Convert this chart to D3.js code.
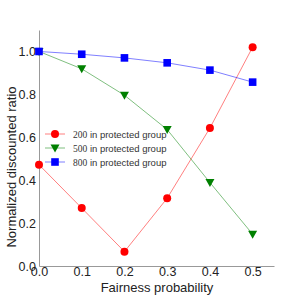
<!DOCTYPE html>
<html>
<head>
<meta charset="utf-8">
<script src="https://cdn.jsdelivr.net/npm/d3@7"></script>
<style>
  body { margin: 0; background: #fff; }
  text { font-family: "Liberation Sans", Arial, sans-serif; }
</style>
</head>
<body>
<div id="chart-container"></div>
<script>
const probs = [0.0, 0.1, 0.2, 0.3, 0.4, 0.5];
const group200 = [0.472, 0.27, 0.067, 0.316, 0.643, 1.02];
const group500 = [1.0, 0.919, 0.796, 0.636, 0.389, 0.148];
const group800 = [1.0, 0.987, 0.97, 0.947, 0.913, 0.857];
const seriesNames = ["200", "500", "800"];
const xTicks = [0.0, 0.1, 0.2, 0.3, 0.4, 0.5];
const yTicks = [0.0, 0.2, 0.4, 0.6, 0.8, 1.0];

const series = [
    {name: seriesNames[0], values: group200, color: "#ff0000", marker: "circle"},
    {name: seriesNames[1], values: group500, color: "#008000", marker: "tri"},
    {name: seriesNames[2], values: group800, color: "#0000ff", marker: "square"}
];

const margin = {top: 30, right: 31, bottom: 39, left: 39},
      width = 305 - margin.left - margin.right,
      height = 305 - margin.top - margin.bottom;

const svg = d3.select("#chart-container").append("svg")
    .attr("width", 305)
    .attr("height", 305);
const g = svg.append("g")
    .attr("transform", `translate(${margin.left}, ${margin.top})`);

const x = d3.scaleLinear().domain([0, 0.55]).range([0, width]);
const y = d3.scaleLinear().domain([0, 1.1]).range([height, 0]);

// axes (no tick marks, grey spines)
const xAxis = g.append("g")
    .attr("transform", `translate(0, ${height})`)
    .call(d3.axisBottom(x).tickValues(xTicks).tickSize(0).tickPadding(1).tickFormat(d3.format(".1f")));
const yAxis = g.append("g")
    .call(d3.axisLeft(y).tickValues(yTicks).tickSize(0).tickPadding(3).tickFormat(d3.format(".1f")));
[xAxis, yAxis].forEach(a => {
    a.select(".domain").attr("stroke", "#999").attr("stroke-width", 1);
    a.selectAll("text").attr("font-size", 12.5).attr("fill", "#222")
        .attr("font-family", "Liberation Sans, Arial, sans-serif");
});

svg.append("text")
    .attr("text-anchor", "middle")
    .attr("x", 157)
    .attr("y", 292)
    .attr("font-size", 13)
    .attr("fill", "#222")
    .text("Fairness probability");
svg.append("text")
    .attr("transform", "rotate(-90)")
    .attr("x", -167)
    .attr("y", 16)
    .attr("text-anchor", "middle")
    .attr("font-size", 13)
    .attr("fill", "#222")
    .text("Normalized discounted ratio");

function drawMarker(sel, type, color) {
    if (type === "circle") {
        sel.append("circle").attr("r", 4).attr("fill", color);
    } else if (type === "square") {
        sel.append("rect").attr("x", -3.8).attr("y", -3.8).attr("width", 7.6).attr("height", 7.6).attr("fill", color);
    } else {
        sel.append("path").attr("d", "M-4.5,-3.5L4.5,-3.5L0,4.5Z").attr("fill", color);
    }
}

const line = d3.line().x((d, i) => x(probs[i])).y(d => y(d));

series.forEach(s => {
    g.append("path")
        .datum(s.values)
        .attr("fill", "none")
        .attr("stroke", s.color)
        .attr("stroke-opacity", 0.5)
        .attr("stroke-width", 1)
        .attr("d", line);
    g.selectAll(null)
        .data(s.values)
        .enter().append("g")
        .attr("transform", (d, i) => `translate(${x(probs[i])}, ${y(d)})`)
        .each(function() { drawMarker(d3.select(this), s.marker, s.color); });
});

// legend
const legend = svg.append("g").attr("transform", "translate(45, 134)");
series.forEach((s, i) => {
    const row = legend.append("g").attr("transform", `translate(0, ${i * 14})`);
    row.append("line").attr("x1", 0).attr("x2", 20).attr("stroke", s.color)
        .attr("stroke-opacity", 0.5).attr("stroke-width", 1);
    const m = row.append("g").attr("transform", "translate(10, 0)");
    drawMarker(m, s.marker, s.color);
    const t = row.append("text").attr("x", 28).attr("y", 3.5).attr("font-size", 9.5).attr("fill", "#333");
    t.append("tspan").attr("font-family", "Liberation Serif, Times New Roman, serif").text(s.name);
    t.append("tspan").text(" in protected group");
});
</script>
</body>
</html>
